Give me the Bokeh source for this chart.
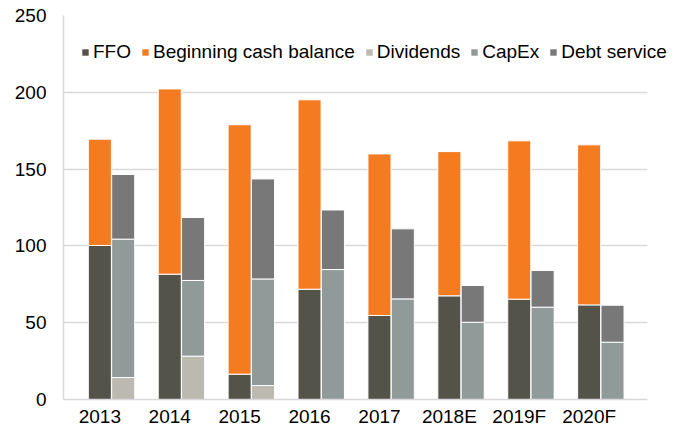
from bokeh.plotting import figure
from bokeh.models import ColumnDataSource, FixedTicker, Legend, LegendItem
from bokeh.transform import dodge
from bokeh.embed import file_html
from bokeh.resources import INLINE
import numpy as np

years = ["2013", "2014", "2015", "2016", "2017", "2018E", "2019F", "2020F"]
ffo = [100.3, 81.6, 16.5, 71.8, 54.7, 67.5, 65.3, 61.6]
cash = [69.2, 120.6, 162.4, 123.3, 105.2, 93.9, 103.1, 104.2]
dividends = [14.3, 28.2, 9.1, 0, 0, 0, 0, 0]
capex = [90.1, 49.3, 69.4, 84.6, 65.5, 50.3, 60.1, 37.3]
debt = [42.1, 41.0, 65.1, 38.8, 45.6, 23.9, 23.9, 24.1]
series_names = ["FFO", "Beginning cash balance", "Dividends", "CapEx", "Debt service"]

C_FFO = "#535349"
C_CASH = "#F47B20"
C_DIV = "#BCB9B1"
C_CAPEX = "#909B99"
C_DEBT = "#787878"
colors = [C_FFO, C_CASH, C_DIV, C_CAPEX, C_DEBT]

idx = np.arange(len(years))
src = ColumnDataSource(dict(x=idx, ffo=ffo, cash=cash, dividends=dividends,
                            capex=capex, debt=debt))

OFF = 0.167
W = 0.33
FONT = "Liberation Sans"
FS = "19px"
X0, X1 = -0.687, 7.668          # visible extent of the chart area
XR_END = 8.111                  # frame extends further right to hold the legend

p = figure(width=678, height=429, output_backend="svg", toolbar_location=None,
           x_range=(X0, XR_END), y_range=(0, 250),
           min_border_left=63, min_border_right=0, min_border_top=15,
           min_border_bottom=29)
p.outline_line_color = None
p.background_fill_color = "white"

left = p.vbar_stack(["ffo", "cash"], x=dodge("x", -OFF), width=W, source=src,
                    color=[C_FFO, C_CASH], line_color="white", line_width=1)
right = p.vbar_stack(["dividends", "capex", "debt"], x=dodge("x", OFF), width=W,
                     source=src, color=[C_DIV, C_CAPEX, C_DEBT],
                     line_color="white", line_width=1)

# legend swatches (square markers with no visible data)
swatches = [p.scatter(x=[np.nan], y=[np.nan], marker="square", color=c,
                      line_color=None) for c in colors]

# axes
p.xaxis.ticker = FixedTicker(ticks=[i - OFF for i in idx])
p.xaxis.major_label_overrides = {float(i - OFF): y for i, y in zip(idx, years)}
p.xaxis.major_tick_line_color = None
p.xaxis.minor_tick_line_color = None
p.xaxis.major_tick_out = 0
p.xaxis.major_tick_in = 0
p.xaxis.axis_line_color = "#d9d9d9"
p.xaxis.axis_line_width = 1.5
p.xaxis.major_label_standoff = 6
p.xaxis.bounds = (X0, X1)
p.xgrid.grid_line_color = None

p.yaxis.ticker = FixedTicker(ticks=[0, 50, 100, 150, 200, 250])
p.yaxis.major_tick_line_color = None
p.yaxis.minor_tick_line_color = None
p.yaxis.axis_line_color = "#d9d9d9"
p.yaxis.axis_line_width = 1.5
p.yaxis.major_label_standoff = 11
p.ygrid.grid_line_color = "#d9d9d9"
p.ygrid.grid_line_width = 1.5
p.ygrid.cross_bounds = (X0, X1)

for ax in (p.xaxis[0], p.yaxis[0]):
    ax.major_label_text_font = FONT
    ax.major_label_text_font_size = FS
    ax.major_label_text_color = "#000000"

items = [LegendItem(label=n, renderers=[r]) for n, r in zip(series_names, swatches)]
legend = Legend(items=items, orientation="horizontal", location=(14, 336),
                padding=0, margin=0, spacing=6, label_standoff=0,
                glyph_width=16, glyph_height=16, label_height=16,
                border_line_color=None, background_fill_alpha=0,
                label_text_font=FONT, label_text_font_size=FS,
                label_text_color="#000000")
p.add_layout(legend, "center")

open("out.html", "w").write(file_html(p, INLINE))
